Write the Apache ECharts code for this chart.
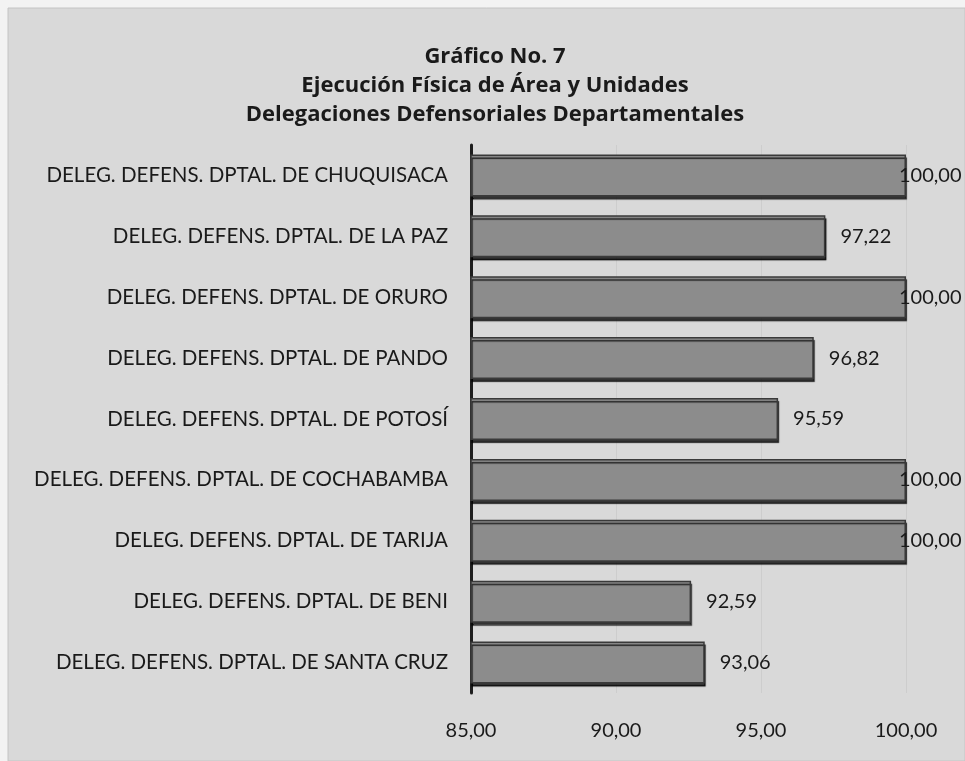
<!DOCTYPE html>
<html>
<head>
<meta charset="utf-8">
<script src="https://cdn.jsdelivr.net/npm/echarts@6/dist/echarts.min.js"></script>
<style>
html,body{margin:0;padding:0;background:#f3f3f3;}
#c{width:965px;height:761px;}
</style>
</head>
<body>
<div id="c"></div>
<script>
const titleLines = ["Gráfico No. 7", "Ejecución Física de Área y Unidades", "Delegaciones Defensoriales Departamentales"];
const categories = [
  "DELEG. DEFENS. DPTAL. DE CHUQUISACA",
  "DELEG. DEFENS. DPTAL. DE LA PAZ",
  "DELEG. DEFENS. DPTAL. DE ORURO",
  "DELEG. DEFENS. DPTAL. DE PANDO",
  "DELEG. DEFENS. DPTAL. DE POTOSÍ",
  "DELEG. DEFENS. DPTAL. DE COCHABAMBA",
  "DELEG. DEFENS. DPTAL. DE TARIJA",
  "DELEG. DEFENS. DPTAL. DE BENI",
  "DELEG. DEFENS. DPTAL. DE SANTA CRUZ"
];
const values = [100.00, 97.22, 100.00, 96.82, 95.59, 100.00, 100.00, 92.59, 93.06];
const xMin = 85, xMax = 100, xStep = 5;

const fmt = v => v.toFixed(2).replace('.', ',');
const FONT = 'Lato';

const chart = echarts.init(document.getElementById('c'), null, {renderer: 'canvas'});
chart.setOption({
  backgroundColor: 'transparent',
  animation: false,
  graphic: [{
    type: 'rect', z: -10, silent: true,
    shape: {x: 8, y: 8, width: 957, height: 753},
    style: {fill: '#d9d9d9', stroke: '#c4c4c4', lineWidth: 1}
  }],
  title: {
    text: titleLines.join('\n'),
    left: 490,
    textAlign: 'center',
    top: 37,
    textStyle: {fontFamily: 'Open Sans', fontWeight: 'bold', fontSize: 22, lineHeight: 29, color: '#1a1a1a'}
  },
  grid: {left: 471, right: 59, top: 145, bottom: 68, containLabel: false},
  xAxis: {
    type: 'value', min: xMin, max: xMax, interval: xStep,
    axisLine: {show: false}, axisTick: {show: false},
    splitLine: {show: true, lineStyle: {color: 'rgba(0,0,0,0.05)'}},
    axisLabel: {fontFamily: FONT, fontSize: 20, color: '#1a1a1a', margin: 28, formatter: v => fmt(v)}
  },
  yAxis: {
    type: 'category', data: categories, inverse: true,
    axisLine: {show: true, lineStyle: {color: '#1e1e1e', width: 3}},
    axisTick: {show: false},
    axisLabel: {fontFamily: FONT, fontSize: 20.5, color: '#1a1a1a', margin: 23}
  },
  series: [{
    type: 'bar',
    barWidth: 42,
    data: values.map(v => ({value: v, label: {distance: v >= xMax ? -7 : 15}})),
    itemStyle: {
      color: '#8c8c8c',
      borderColor: '#3a3a3a',
      borderWidth: 1.5,
      shadowColor: 'rgba(0,0,0,0.75)',
      shadowOffsetY: 3,
      shadowOffsetX: 1,
      shadowBlur: 1
    },
    label: {
      show: true, position: 'right',
      fontFamily: FONT, fontSize: 20, color: '#1a1a1a',
      formatter: p => fmt(p.value)
    }
  }]
});
</script>
</body>
</html>
